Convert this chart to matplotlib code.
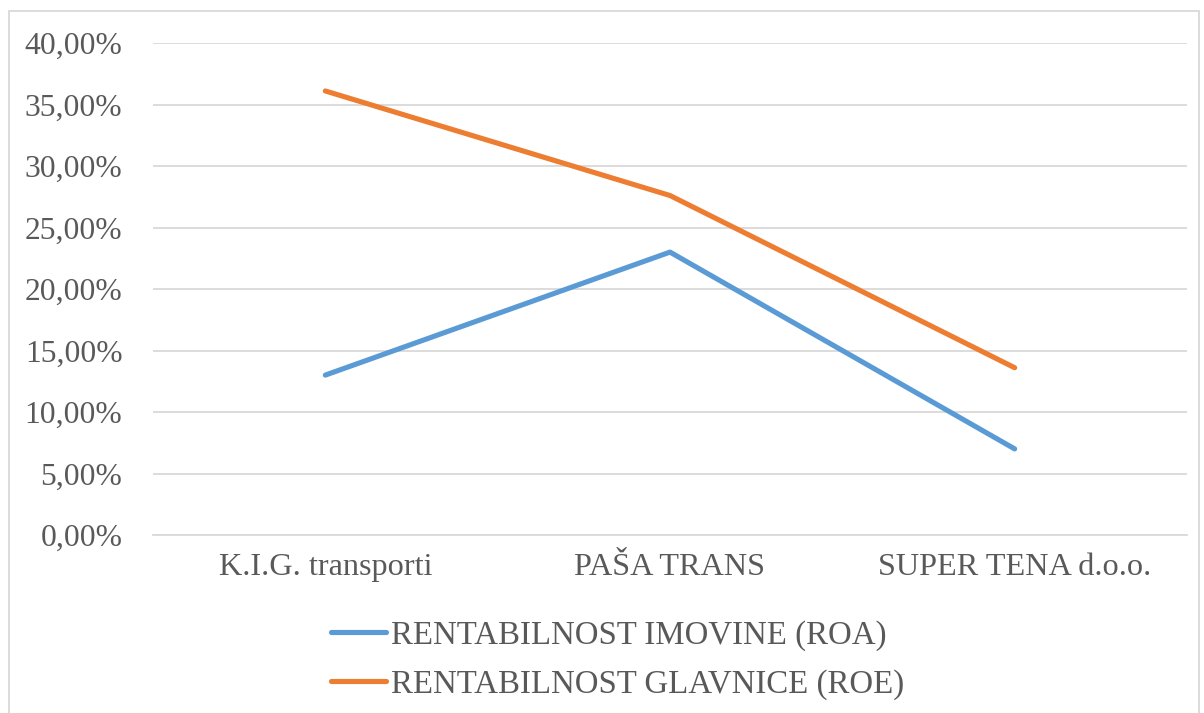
import matplotlib
matplotlib.use("Agg")
import matplotlib.pyplot as plt
from matplotlib.ticker import FuncFormatter, MultipleLocator
from matplotlib.patches import Rectangle

plt.rcParams['font.family'] = ['Liberation Serif', 'DejaVu Serif']

# data
companies = ["K.I.G. transporti", "PAŠA TRANS", "SUPER TENA d.o.o."]
roa = [13.0, 23.0, 7.0]
roe = [36.1, 27.6, 13.6]
series_names = ["RENTABILNOST IMOVINE (ROA)", "RENTABILNOST GLAVNICE (ROE)"]

blue = "#5B9BD5"
orange = "#ED7D31"
txt = "#595959"
grid = "#D9D9D9"

W, H = 1204, 713
fig = plt.figure(figsize=(W / 100, H / 100), dpi=100)
ax = fig.add_axes([153 / W, 1 - 535 / H, (1187 - 153) / W, (535 - 43) / H])

x = range(len(companies))
ax.plot(x, roa, color=blue, lw=3.7, solid_capstyle='round', label=series_names[0])
ax.plot(x, roe, color=orange, lw=3.7, solid_capstyle='round', label=series_names[1])

ax.set_xlim(-0.5, len(companies) - 0.5)
ax.set_ylim(0, 40)
ax.yaxis.set_major_locator(MultipleLocator(5))
ax.yaxis.set_major_formatter(FuncFormatter(lambda v, p: f"{v:.2f}".replace(".", ",") + "%"))
ax.set_xticks(list(x))
ax.set_xticklabels(companies)
ax.grid(axis='y', color=grid, lw=1.3)
ax.set_axisbelow(True)
for s in ax.spines.values():
    s.set_visible(False)
ax.spines['bottom'].set_visible(True)
ax.spines['bottom'].set_color(grid)
ax.spines['bottom'].set_linewidth(1.3)
ax.tick_params(axis='x', length=0, labelsize=23.2, colors=txt, pad=13)
ax.tick_params(axis='y', length=0, labelsize=22.8, colors=txt, pad=22)

leg = fig.legend(loc='center left', bbox_to_anchor=(331 / W, 1 - 660 / H), frameon=False,
                 fontsize=23.7, handlelength=1.67, handletextpad=0.15, labelspacing=0.55,
                 borderpad=0, borderaxespad=0)
for t in leg.get_texts():
    t.set_color(txt)

fig.patches.append(Rectangle((9 / W, -0.01), (1199 - 9) / W, 1 - 11 / H + 0.01,
                             transform=fig.transFigure, fill=False, ec=grid, lw=1.3))

fig.savefig("out.png", dpi=100)
